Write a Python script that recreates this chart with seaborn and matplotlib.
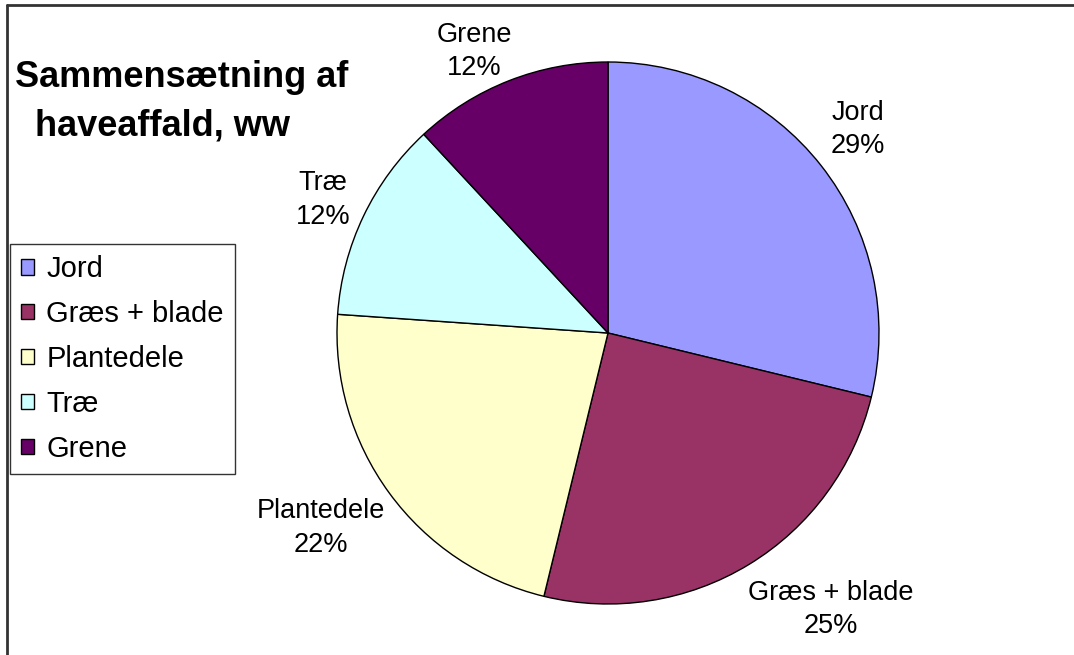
import matplotlib.pyplot as plt
import seaborn as sns
from matplotlib.patches import Patch
import numpy as np

sns.set_theme(style='white')
plt.rcParams['font.family'] = ['Liberation Sans', 'DejaVu Sans']
plt.rcParams['text.color'] = 'black'

# data
categories = ['Jord', 'Græs + blade', 'Plantedele', 'Træ', 'Grene']
shares = [28.8, 25.0, 22.3, 12.0, 11.9]
pct_labels = ['29%', '25%', '22%', '12%', '12%']
colors = ['#9999FF', '#993366', '#FFFFCC', '#CCFFFF', '#660066']

fig = plt.figure(figsize=(10.74, 6.55), dpi=100)
fig.patch.set_facecolor('white')

# pie centre ~ (608, 333) px, radius ~ 271 px
cx, cy, r = 608 / 1074, 1 - 333 / 655, 271
ax = fig.add_axes([cx - r / 1074, cy - r / 655, 2 * r / 1074, 2 * r / 655])

wedges, _ = ax.pie(
    shares,
    colors=colors,
    startangle=90,
    counterclock=False,
    wedgeprops={'edgecolor': 'black', 'linewidth': 1.0},
)
ax.set_xlim(-1, 1)
ax.set_ylim(-1, 1)
ax.set_aspect('equal')
ax.axis('off')

# label distance per slice (Excel puts them a bit irregularly)
label_dist = [1.19, 1.31, 1.28, 1.16, 1.15]
angle_shift = [1.0, 7.5, -2, 0.5, 4]
for w, name, pct, d, sh in zip(wedges, categories, pct_labels, label_dist, angle_shift):
    ang = np.deg2rad((w.theta1 + w.theta2) / 2 + sh)
    ax.text(d * np.cos(ang), d * np.sin(ang), f'{name}\n{pct}',
            ha='center', va='center', fontsize=19.5, linespacing=1.38,
            color='black', clip_on=False)

fig.text(15 / 1074, 1 - 102 / 655, 'Sammensætning af\n  haveaffald, ww',
         ha='left', va='center', fontsize=26, fontweight='bold',
         linespacing=1.5, color='black')

handles = [Patch(facecolor=c, edgecolor='black', linewidth=1.0) for c in colors]
leg = fig.legend(
    handles, categories,
    loc='upper left',
    bbox_to_anchor=(10 / 1074, 1 - 244 / 655),
    frameon=True, fancybox=False, edgecolor='black',
    fontsize=21, labelspacing=0.58,
    handlelength=0.45, handleheight=0.45, handletextpad=0.42,
    borderpad=0.38, borderaxespad=0,
)
leg.get_frame().set_linewidth(1.0)
for t in leg.get_texts():
    t.set_color('black')

# border of the chart area (only left and top visible)
fig.add_artist(plt.Line2D([7 / 1074, 7 / 1074], [0, 1 - 5 / 655],
                          color='#333333', linewidth=2))
fig.add_artist(plt.Line2D([7 / 1074, 1], [1 - 5 / 655, 1 - 5 / 655],
                          color='#333333', linewidth=2))

fig.savefig('out.png', dpi=100, facecolor='white')
